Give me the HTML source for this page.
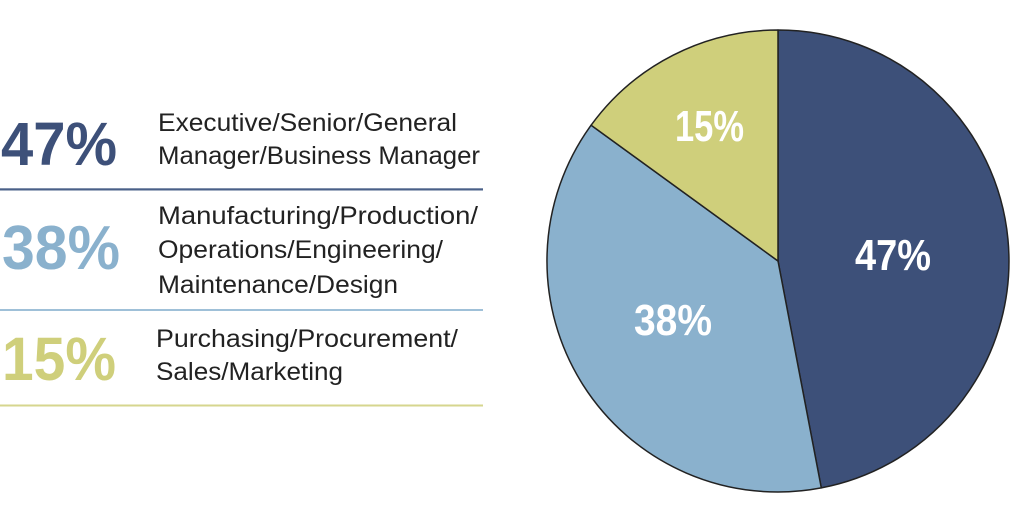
<!DOCTYPE html>
<html><head><meta charset="utf-8"><style>
html,body{margin:0;padding:0;background:#fff;}
svg{display:block;}
</style></head><body>
<svg width="1024" height="512" viewBox="0 0 1024 512" xmlns="http://www.w3.org/2000/svg">
<rect width="1024" height="512" fill="#fff"/>
<g font-family="'Liberation Sans', sans-serif">
<text x="1" y="165" font-size="61" font-weight="bold" fill="#3d5079" textLength="116" lengthAdjust="spacingAndGlyphs">47%</text>
<text x="2" y="269" font-size="62" font-weight="bold" fill="#8ab1cd" textLength="118" lengthAdjust="spacingAndGlyphs">38%</text>
<text x="2" y="380" font-size="61" font-weight="bold" fill="#cfcf7b" textLength="114" lengthAdjust="spacingAndGlyphs">15%</text>
<g font-size="25" fill="#222">
<text x="158" y="131" textLength="299" lengthAdjust="spacingAndGlyphs">Executive/Senior/General</text>
<text x="158" y="164" textLength="322" lengthAdjust="spacingAndGlyphs">Manager/Business Manager</text>
<text x="158" y="224" textLength="320" lengthAdjust="spacingAndGlyphs">Manufacturing/Production/</text>
<text x="158" y="258" textLength="285" lengthAdjust="spacingAndGlyphs">Operations/Engineering/</text>
<text x="158" y="293" textLength="240" lengthAdjust="spacingAndGlyphs">Maintenance/Design</text>
<text x="156" y="347" textLength="302" lengthAdjust="spacingAndGlyphs">Purchasing/Procurement/</text>
<text x="156" y="380" textLength="187" lengthAdjust="spacingAndGlyphs">Sales/Marketing</text>
</g>
<rect x="0" y="188.3" width="483" height="2.2" fill="#4a6088"/>
<rect x="0" y="309" width="483" height="2" fill="#9fc0d8"/>
<rect x="0" y="404.5" width="483" height="2" fill="#d6d68e"/>
</g>
<g stroke="#222" stroke-width="1.5" stroke-linejoin="round">
<path d="M778,261 L778,30 A231,231 0 0 1 821.3,487.9 Z" fill="#3d5079"/>
<path d="M778,261 L821.3,487.9 A231,231 0 0 1 591.1,125.2 Z" fill="#8ab1cd"/>
<path d="M778,261 L591.1,125.2 A231,231 0 0 1 778,30 Z" fill="#cfcf7b"/>
</g>
<g font-family="'Liberation Sans', sans-serif" font-weight="bold" font-size="44" fill="#fff">
<text x="855" y="270" textLength="76" lengthAdjust="spacingAndGlyphs">47%</text>
<text x="634" y="335" textLength="78" lengthAdjust="spacingAndGlyphs">38%</text>
<text x="675" y="141" textLength="69" lengthAdjust="spacingAndGlyphs">15%</text>
</g>
</svg>
</body></html>
